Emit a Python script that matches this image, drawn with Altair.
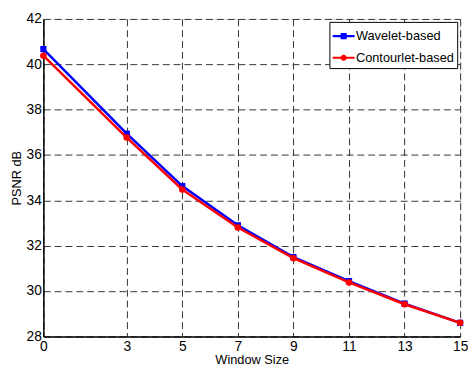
import altair as alt
import pandas as pd

window = [0, 3, 5, 7, 9, 11, 13, 15]
wavelet = [40.67, 36.94, 34.63, 32.90, 31.50, 30.44, 29.45, 28.60]
contourlet = [40.38, 36.77, 34.48, 32.80, 31.45, 30.38, 29.42, 28.60]
series = ["Wavelet-based", "Contourlet-based"]
colors = ["#0000ff", "#ff0000"]
x_ticks = [0, 3, 5, 7, 9, 11, 13, 15]
y_ticks = [28, 30, 32, 34, 36, 38, 40, 42]

rows = []
for w, a, b in zip(window, wavelet, contourlet):
    rows.append({"w": w, "psnr": a, "s": series[0]})
    rows.append({"w": w, "psnr": b, "s": series[1]})
df = pd.DataFrame(rows)

FONT = "Liberation Sans"

x = alt.X("w:Q", title="Window Size",
          scale=alt.Scale(domain=[0, 15], nice=False, zero=False),
          axis=alt.Axis(values=x_ticks, format="d", grid=True, gridDash=[7, 4],
                        gridColor="#333333", gridOpacity=1, tickSize=0,
                        labelFontSize=14, titleFontSize=13, titleFontWeight="normal",
                        labelPadding=3, titlePadding=1, domainColor="black", domainWidth=1.5,
                        labelFlush=False, tickColor="black"))
y = alt.Y("psnr:Q", title="PSNR  dB",
          scale=alt.Scale(domain=[28, 42], nice=False, zero=False),
          axis=alt.Axis(values=y_ticks, format="d", grid=True, gridDash=[7, 4],
                        gridColor="#333333", gridOpacity=1, tickSize=0,
                        labelFontSize=14, titleFontSize=13, titleFontWeight="normal",
                        labelPadding=2, titlePadding=3, domainColor="black", domainWidth=1.5,
                        tickColor="black"))

base = alt.Chart(df)

layers = []
for name, col, mk in [(series[0], colors[0], "square"), (series[1], colors[1], "circle")]:
    sub = base.transform_filter(alt.datum.s == name)
    layers.append(sub.mark_line(strokeWidth=2.5, color=col).encode(
        x=x, y=y, order=alt.Order("w:Q")))
    if mk == "square":
        layers.append(sub.mark_square(size=40, opacity=1, color=col).encode(x=x, y=y))
    else:
        layers.append(sub.mark_circle(size=45, opacity=1, color=col).encode(x=x, y=y))

sq = "M-1,-0.1H1V0.1H-1Z M-0.28,-0.28H0.28V0.28H-0.28Z"
ci = "M-1,-0.1H1V0.1H-1Z M0.28,0A0.28,0.28 0 1,1 -0.28,0A0.28,0.28 0 1,1 0.28,0Z"

legend = alt.Legend(title=None, orient="top-right", offset=3,
                    labelFontSize=13, labelFont=FONT,
                    symbolSize=500, symbolStrokeWidth=0,
                    symbolOpacity=1,
                    strokeColor="black", fillColor="white",
                    padding=3, rowPadding=3, labelOffset=1,
                    symbolOffset=0)

leg = base.mark_point(filled=True, opacity=0, size=500, strokeWidth=0).encode(
    x=x, y=y,
    color=alt.Color("s:N", scale=alt.Scale(domain=series, range=colors), legend=legend),
    shape=alt.Shape("s:N", scale=alt.Scale(domain=series, range=[sq, ci]), legend=legend),
)
layers.append(leg)

chart = alt.layer(*layers).properties(
    width=424, height=323,
    padding={"left": 36, "top": 8, "right": 8, "bottom": 30},
    autosize="none",
).configure_view(stroke="black", strokeWidth=1.5).configure(
    font=FONT
).configure_axis(labelFont=FONT, titleFont=FONT, labelColor="black", titleColor="black")

chart.save("out.html", embed_options={"renderer": "svg", "actions": False})
